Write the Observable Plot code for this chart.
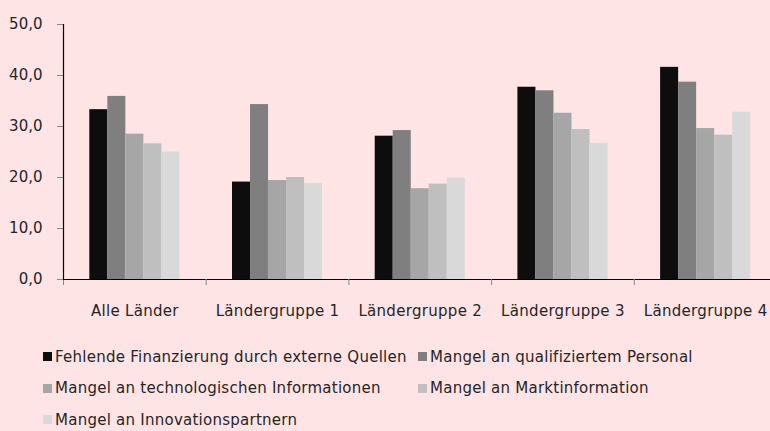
<!DOCTYPE html>
<html>
<head>
<meta charset="utf-8">
<script src="https://cdn.jsdelivr.net/npm/d3@7"></script>
<script src="https://cdn.jsdelivr.net/npm/@observablehq/plot@0.6"></script>
<style>
  html, body { margin: 0; padding: 0; background: #fee4e5; overflow: hidden; }
  body { width: 770px; height: 431px; font-family: "DejaVu Sans", sans-serif; color: #262626; }
  #chart svg { display: block; overflow: visible; }
  .legend { display: grid; grid-template-columns: 375px auto; margin-left: 43px; margin-top: 16px; font-size: 15px; letter-spacing: 0.25px; }
  .legend .item { height: 31.5px; display: flex; align-items: center; white-space: nowrap; }
  .legend .sw { width: 9px; height: 9px; margin-right: 3px; flex: none; }
  #chart svg g[aria-label="fx-axis tick label"] text { letter-spacing: 0.3px; }
</style>
</head>
<body>
<div id="chart"></div>
<div class="legend" id="legend"></div>
<script>
const groups = ["Alle Länder", "Ländergruppe 1", "Ländergruppe 2", "Ländergruppe 3", "Ländergruppe 4"];
const seriesNames = [
  "Fehlende Finanzierung durch externe Quellen",
  "Mangel an qualifiziertem Personal",
  "Mangel an technologischen Informationen",
  "Mangel an Marktinformation",
  "Mangel an Innovationspartnern"
];
const finanzierung = [33.3, 19.1, 28.1, 37.7, 41.6];
const personal = [35.9, 34.3, 29.2, 37.0, 38.7];
const technologie = [28.5, 19.4, 17.8, 32.6, 29.6];
const markt = [26.6, 20.0, 18.7, 29.4, 28.3];
const innovation = [25.0, 18.8, 19.9, 26.7, 32.8];
const colors = ["#0d0d0d", "#7f7f7f", "#a6a6a6", "#bfbfbf", "#d9d9d9"];
const yTicks = [0, 10, 20, 30, 40, 50];

const seriesValues = [finanzierung, personal, technologie, markt, innovation];
const data = [];
groups.forEach((g, i) => {
  seriesNames.forEach((s, j) => data.push({group: g, series: s, value: seriesValues[j][i]}));
});

const fmt = d => d.toFixed(1).replace(".", ",");

const chart = Plot.plot({
  width: 770,
  height: 325,
  marginTop: 24,
  marginBottom: 46,
  marginLeft: 63,
  marginRight: -6.5,
  style: {background: "transparent", fontFamily: "DejaVu Sans, sans-serif", fontSize: "15px", color: "#262626"},
  fx: {domain: groups, padding: 0, label: null, round: false},
  x: {domain: seriesNames, paddingInner: 0, paddingOuter: 1.46, axis: null, round: false},
  y: {domain: [0, 50], axis: null},
  color: {domain: seriesNames, range: colors},
  marks: [
    Plot.barY(data, {fx: "group", x: "series", y: "value", fill: "series", inset: 0}),
    Plot.ruleY([0], {stroke: "#000", strokeWidth: 1.2}),
    Plot.frame({anchor: "left", stroke: "#888", insetTop: 255, insetBottom: -5}),
    Plot.frame({anchor: "left", facetAnchor: "left", stroke: "#000", strokeWidth: 1.2}),
    Plot.axisY({ticks: yTicks, tickSize: 6, tickPadding: 15, tickFormat: fmt, label: null, stroke: "#888", fontSize: 15}),
    Plot.axisFx({anchor: "bottom", tickSize: 0, tickPadding: 26, label: null, fontSize: 15})
  ]
});
document.getElementById("chart").appendChild(chart);

const legend = document.getElementById("legend");
seriesNames.forEach((s, j) => {
  const item = document.createElement("div");
  item.className = "item";
  const sw = document.createElement("span");
  sw.className = "sw";
  sw.style.background = colors[j];
  item.appendChild(sw);
  item.appendChild(document.createTextNode(s));
  legend.appendChild(item);
});
</script>
</body>
</html>
